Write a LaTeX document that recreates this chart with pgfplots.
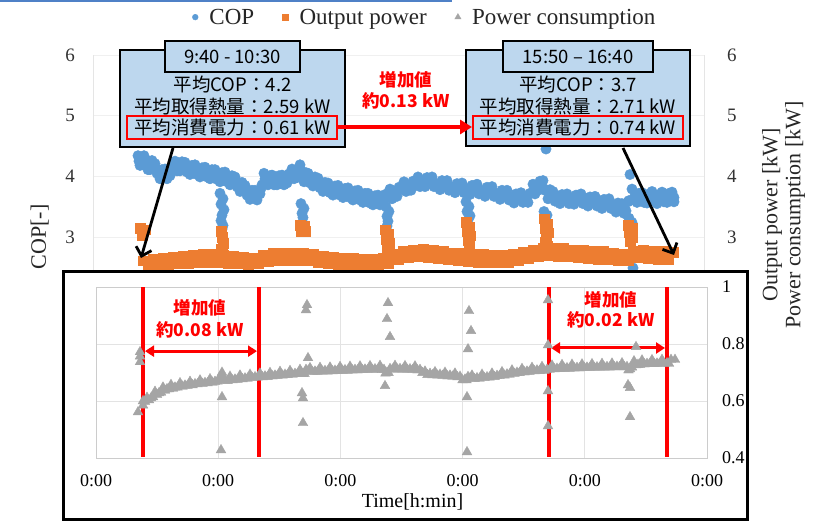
\documentclass[border=0pt]{standalone}
\usepackage{pgfplots}
\pgfplotsset{compat=1.18}
\usepackage{fontspec}
\setmainfont{Liberation Serif}
\newfontfamily\jp{Noto Sans CJK JP}
\usetikzlibrary{arrows.meta}

\definecolor{copblue}{HTML}{5B9BD5}
\definecolor{outorange}{HTML}{ED7D31}
\definecolor{pcgray}{HTML}{A5A5A5}
\definecolor{boxblue}{HTML}{BDD7EE}
\definecolor{annred}{HTML}{FF0000}
\definecolor{topblue}{HTML}{4F81C7}

\begin{document}
\begin{tikzpicture}[x=1pt,y=1pt]
\useasboundingbox (0,0) rectangle (822,522);
\fill[white] (0,0) rectangle (822,522);
\draw[topblue, line width=2.2pt] (0,521) -- (452,521);

% ---------- full-day chart: COP (left axis) ----------
\begin{scope}[xshift=93pt, yshift=103pt]
\begin{axis}[
  scale only axis, width=611pt, height=364pt,
  at={(0pt,0pt)}, anchor=south west,
  xmin=93, xmax=704, ymin=0, ymax=6,
  axis y line*=left, axis x line*=bottom,
  xtick=\empty, ytick={0,1,2,3,4,5,6},
  ymajorgrids, grid style={gray!12, line width=0.8pt},
  axis line style={gray!20},
  major tick length=0pt,
  /pgf/number format/assume math mode=true,
  yticklabel style={font=\fontsize{19}{19}\selectfont, text=black!80, anchor=east, inner sep=0pt, xshift=-18pt},
  ylabel={COP[-]},
  ylabel style={font=\fontsize{22}{22}\selectfont, text=black!85,
    at={(axis description cs:-0.087,0.5)}, anchor=center},
]
\addplot[only marks, mark=*, mark size=5.2pt, color=copblue] coordinates {
(138,4.34)(140,4.18)(142,4.19)(144,4.34)(146,4.27)(148,4.11)(150,4.11)(152,4.26)
(155,4.21)(157,4.05)(160,3.96)(162,4.11)(165,4.12)(167,3.96)(170,4.01)(172,4.16)
(175,4.25)(177,4.09)(180,4.09)(182,4.24)(185,4.23)(187,4.07)(190,4.03)(192,4.18)
(195,4.19)(197,4.03)(200,3.99)(202,4.14)(205,4.15)(207,3.99)(210,3.96)(212,4.11)
(215,4.11)(217,3.95)(220,3.91)(222,4.06)(225,4.07)(227,3.91)(230,3.86)(232,4.01)
(235,3.99)(237,3.83)(240,3.75)(242,3.90)(245,3.85)(247,3.69)(250,3.62)(252,3.77)
(255,3.77)(257,3.61)(260,3.71)(262,3.86)(264,4.05)(266,3.89)(268,3.86)(270,4.01)
(272,4.02)(274,3.86)(277,3.86)(279,4.01)(282,4.02)(284,3.86)(287,3.89)(289,4.04)
(292,4.12)(294,3.96)(297,3.98)(299,4.13)(300,4.19)(302,4.03)(304,3.91)(306,4.06)
(308,4.05)(310,3.89)(313,3.84)(315,3.99)(318,3.97)(320,3.81)(323,3.75)(325,3.90)
(328,3.89)(330,3.73)(333,3.69)(335,3.84)(338,3.85)(340,3.69)(343,3.65)(345,3.80)
(348,3.81)(350,3.65)(353,3.61)(355,3.76)(358,3.77)(360,3.61)(363,3.57)(365,3.72)
(368,3.72)(370,3.56)(373,3.53)(375,3.68)(378,3.69)(380,3.53)(383,3.55)(385,3.70)
(390,3.79)(392,3.63)(397,3.67)(399,3.82)(404,3.91)(406,3.75)(411,3.77)(413,3.92)
(418,3.99)(420,3.83)(425,3.83)(427,3.98)(432,3.99)(434,3.83)(440,3.78)(442,3.93)
(447,3.93)(449,3.77)(455,3.73)(457,3.88)(462,3.89)(464,3.73)(470,3.70)(472,3.85)
(477,3.87)(479,3.71)(485,3.67)(487,3.82)(492,3.83)(494,3.67)(500,3.62)(502,3.77)
(507,3.77)(509,3.61)(514,3.56)(516,3.71)(521,3.73)(523,3.57)(528,3.57)(530,3.72)
(533,3.87)(535,3.71)(538,3.77)(540,3.92)(543,3.93)(545,3.77)(548,3.63)(550,3.78)
(553,3.75)(555,3.59)(560,3.55)(562,3.70)(567,3.71)(569,3.55)(574,3.54)(576,3.69)
(581,3.71)(583,3.55)(588,3.51)(590,3.66)(595,3.67)(597,3.51)(602,3.47)(604,3.62)
(609,3.63)(611,3.47)(616,3.41)(618,3.56)(622,3.55)(624,3.39)(626,3.43)(628,3.58)
(632,3.79)(634,3.63)(637,3.57)(639,3.72)(642,3.73)(644,3.57)(647,3.56)(649,3.71)
(652,3.75)(654,3.59)(657,3.55)(659,3.70)(662,3.74)(664,3.58)(667,3.57)(669,3.72)
(672,3.74)(674,3.58)(630,4.03)(546,4.45)
(139,4.25)(143,4.28)(147,4.18)(151,4.20)(156,4.12)(161,4.05)(166,4.03)(171,4.10)
(176,4.16)(181,4.18)(186,4.14)(191,4.12)(196,4.10)(201,4.08)(206,4.06)(211,4.05)
(216,4.02)(221,4.00)(226,3.98)(231,3.95)(236,3.90)(241,3.84)(246,3.76)(251,3.71)
(256,3.68)(261,3.80)(265,3.96)(269,3.95)(273,3.93)(278,3.95)(283,3.93)(288,3.98)
(293,4.03)(298,4.07)(301,4.10)(305,4.00)(309,3.96)(314,3.93)(319,3.88)(324,3.84)
(329,3.80)(334,3.78)(339,3.76)(344,3.74)(349,3.72)(354,3.70)(359,3.68)(364,3.66)
(369,3.63)(374,3.62)(379,3.60)(384,3.64)(388,3.67)(394,3.72)(401,3.79)(408,3.84)
(415,3.88)(422,3.91)(429,3.91)(436,3.88)(444,3.85)(451,3.83)(459,3.81)(466,3.80)
(474,3.78)(481,3.77)(489,3.75)(496,3.72)(504,3.70)(511,3.66)(518,3.64)(525,3.65)
(531,3.72)(536,3.82)(541,3.85)(546,3.78)(551,3.69)(557,3.65)(564,3.63)(571,3.62)
(578,3.62)(585,3.61)(592,3.59)(599,3.57)(606,3.55)(613,3.52)(619,3.48)(624,3.47)
(629,3.60)(635,3.68)(640,3.65)(645,3.64)(650,3.65)(655,3.65)(660,3.64)(665,3.65)
(670,3.66)(674,3.65)
(220,3.72)(223,3.63)(221,3.54)(224,3.45)(222,3.36)(221,3.27)(223,3.19)(222,3.13)
(301,3.55)(304,3.47)(302,3.39)(303,3.32)
(386,3.50)(389,3.42)(387,3.34)(388,3.26)(387,3.18)
(466,3.58)(469,3.50)(467,3.42)(470,3.35)(468,3.28)
(544,3.42)(547,3.36)(545,3.31)
(629,3.31)(632,3.24)(630,3.18)(633,2.49)
};
\end{axis}

% ---------- full-day chart: output power (right axis) ----------
\begin{axis}[
  scale only axis, width=611pt, height=364pt,
  at={(0pt,0pt)}, anchor=south west,
  xmin=93, xmax=704, ymin=0, ymax=6,
  axis y line*=right, axis x line=none,
  ytick={0,1,2,3,4,5,6},
  axis line style={gray!20},
  major tick length=0pt,
  /pgf/number format/assume math mode=true,
  yticklabel style={font=\fontsize{19}{19}\selectfont, text=black!80, anchor=west, inner sep=0pt, xshift=23pt},
  legend style={at={(0.543,1.104)}, anchor=center, draw=none, fill=none,
    font=\fontsize{23}{23}\selectfont, text=black!85,
    /tikz/every even column/.append style={column sep=26pt}},
  legend columns=3,
  legend image code/.code={\path (0pt,0pt) (15pt,0pt); \draw[#1] plot coordinates {(3pt,0pt)};},
]
\addlegendimage{only marks, mark=*, mark size=2.9pt, copblue}
\addlegendentry{COP}
\addlegendimage{only marks, mark=square*, mark size=3.1pt, outorange}
\addlegendentry{Output power}
\addlegendimage{only marks, mark=triangle*, mark size=3.6pt, pcgray}
\addlegendentry{Power consumption}
\addplot[only marks, mark=square*, mark size=4.9pt, color=outorange, forget plot] coordinates {
(143,2.61)(148,2.51)(153,2.64)(158,2.54)(163,2.66)(168,2.54)(173,2.67)(178,2.56)
(183,2.68)(188,2.57)(193,2.70)(198,2.59)(203,2.71)(208,2.59)(213,2.71)(218,2.58)
(223,2.70)(228,2.57)(233,2.68)(238,2.56)(243,2.67)(248,2.54)(253,2.66)(258,2.56)
(263,2.70)(268,2.60)(273,2.73)(278,2.62)(283,2.74)(288,2.61)(293,2.73)(298,2.62)
(303,2.74)(308,2.61)(313,2.72)(318,2.59)(323,2.69)(328,2.56)(333,2.67)(338,2.54)
(343,2.66)(348,2.53)(353,2.65)(358,2.52)(363,2.64)(368,2.52)(373,2.64)(378,2.53)
(383,2.66)(388,2.56)(393,2.71)(398,2.63)(403,2.77)(408,2.66)(413,2.79)(418,2.68)
(423,2.80)(428,2.67)(433,2.78)(438,2.65)(443,2.76)(448,2.63)(453,2.74)(458,2.61)
(463,2.73)(468,2.60)(473,2.72)(478,2.59)(483,2.71)(488,2.58)(493,2.70)(498,2.58)
(503,2.70)(508,2.59)(513,2.72)(518,2.61)(523,2.75)(528,2.65)(533,2.79)(538,2.69)
(543,2.82)(548,2.70)(553,2.82)(558,2.69)(563,2.81)(568,2.68)(573,2.79)(578,2.66)
(583,2.78)(588,2.65)(593,2.77)(598,2.64)(603,2.76)(608,2.63)(613,2.74)(618,2.61)
(623,2.72)(628,2.61)(633,2.76)(638,2.66)(643,2.78)(648,2.65)(653,2.77)(658,2.64)
(663,2.76)(668,2.63)(673,2.75)
(140,3.15)(145,3.12)(142,3.02)
(221,3.10)(222,3.00)(223,2.90)(221,2.80)(222,2.72)
(300,3.20)(304,3.18)(301,3.10)(305,3.10)
(385,3.12)(388,3.05)(386,2.97)(389,2.90)(387,2.83)
(466,3.25)(469,3.17)(467,3.10)(470,3.02)(468,2.95)(469,2.88)
(544,3.30)(547,3.22)(545,3.15)(548,3.07)(546,3.00)(545,2.92)(547,2.85)
(628,3.20)(632,3.15)(629,3.07)(632,3.00)(630,2.93)
};
\end{axis}
\end{scope}

\node[rotate=90, align=center, font=\fontsize{22}{23}\selectfont, text=black!85]
  at (783.5,307) {Output power [kW]\\Power consumption [kW]};

% ---------- callout boxes ----------
\begin{scope}[font=\jp\fontsize{18.5}{18.5}\selectfont]
\draw[fill=boxblue, line width=2.5pt] (120,375) rectangle (345,472);
\draw[fill=boxblue, line width=2.5pt] (165,450) rectangle (300,481);
\node at (232.5,465.5) {9:40 - 10:30};
\node at (232.5,437) {平均COP：4.2};
\node at (232.5,415) {平均取得熱量：2.59 kW};
\node at (232.5,394) {平均消費電力：0.61 kW};
\draw[annred, line width=2pt] (127,383) rectangle (337,406);

\draw[fill=boxblue, line width=2.5pt] (466,376) rectangle (690,472);
\draw[fill=boxblue, line width=2.5pt] (503,450) rectangle (653,481);
\node at (578,465.5) {15:50 – 16:40};
\node at (578,437) {平均COP：3.7};
\node at (578,415) {平均取得熱量：2.71 kW};
\node at (578,394) {平均消費電力：0.74 kW};
\draw[annred, line width=2pt] (473,383) rectangle (683,406);
\end{scope}

\draw[annred, line width=4pt, -{Triangle[length=12pt,width=14pt]}] (337,395) -- (472,395);
\node[annred, font=\jp\bfseries\fontsize{17.5}{17.5}\selectfont] at (406,442) {増加値};
\node[annred, font=\jp\bfseries\fontsize{17.5}{17.5}\selectfont] at (406,421) {約0.13 kW};

\draw[line width=2.8pt, -{Straight Barb[length=8pt,width=16pt]}] (173,374) -- (141,264);
\draw[line width=2.8pt, -{Straight Barb[length=8pt,width=16pt]}] (623,374) -- (674,267);

% ---------- zoomed power consumption ----------
\fill[white] (63,2) rectangle (747,250);
\begin{scope}[xshift=96pt, yshift=64pt]
\begin{axis}[
  scale only axis, width=611pt, height=171pt,
  at={(0pt,0pt)}, anchor=south west,
  xmin=96, xmax=707, ymin=0.4, ymax=1,
  xtick={96,218.2,340.4,462.6,584.8,707},
  xticklabels={0:00,0:00,0:00,0:00,0:00,0:00},
  ytick={0.4,0.6,0.8,1}, yticklabel pos=right,
  grid=major, grid style={gray!22, line width=0.8pt},
  axis line style={gray!40, line width=0.8pt},
  major tick length=0pt,
  /pgf/number format/assume math mode=true,
  xticklabel style={font=\fontsize{18}{18}\selectfont, anchor=north, inner sep=0pt, yshift=-16pt},
  yticklabel style={font=\fontsize{18}{18}\selectfont, anchor=west, inner sep=0pt, xshift=15pt},
  xlabel={Time[h:min]},
  xlabel style={font=\fontsize{20}{20}\selectfont, at={(axis description cs:0.518,0)}, anchor=center, yshift=-44pt},
]
\addplot[only marks, mark=triangle*, mark size=5.6pt, color=pcgray] coordinates {
(143,0.585)(143,0.60)(147,0.612)(151,0.61)(155,0.633)(159,0.628)(163,0.648)(167,0.642)
(171,0.657)(175,0.648)(180,0.663)(185,0.655)(190,0.668)(195,0.66)(200,0.673)(205,0.664)
(210,0.677)(215,0.668)(220,0.685)(222,0.70)(225,0.672)(230,0.686)(235,0.676)(240,0.69)
(245,0.68)(250,0.693)(255,0.684)(260,0.697)(265,0.687)(270,0.699)(275,0.69)(280,0.703)
(285,0.693)(290,0.706)(295,0.696)(300,0.71)(303,0.695)(306,0.71)(310,0.716)(315,0.704)
(320,0.717)(325,0.706)(330,0.718)(335,0.707)(340,0.72)(345,0.709)(350,0.721)(355,0.71)
(360,0.722)(365,0.711)(370,0.723)(375,0.712)(380,0.724)(384,0.71)(387,0.70)(390,0.713)
(395,0.724)(400,0.713)(405,0.723)(410,0.712)(415,0.722)(420,0.71)(425,0.704)(430,0.696)
(435,0.702)(440,0.693)(445,0.70)(450,0.69)(455,0.697)(460,0.686)(465,0.676)(468,0.685)
(472,0.69)(477,0.681)(482,0.693)(487,0.684)(492,0.697)(497,0.689)(502,0.702)(507,0.694)
(512,0.708)(517,0.70)(522,0.713)(527,0.704)(532,0.717)(537,0.708)(542,0.72)(547,0.71)
(552,0.725)(557,0.714)(562,0.727)(567,0.716)(572,0.728)(577,0.717)(582,0.729)(587,0.718)
(592,0.73)(597,0.719)(602,0.731)(607,0.72)(612,0.732)(617,0.721)(622,0.733)(627,0.72)
(630,0.712)(634,0.74)(638,0.728)(642,0.743)(647,0.731)(652,0.744)(657,0.732)(662,0.745)
(667,0.733)(671,0.745)
(145,0.598)(149,0.603)(153,0.614)(157,0.622)(161,0.630)(165,0.637)(169,0.642)(173,0.644)
(177.5,0.648)(182.5,0.651)(187.5,0.654)(192.5,0.656)(197.5,0.659)(202.5,0.661)(207.5,0.663)
(212.5,0.665)(217.5,0.669)(223.5,0.678)(227.5,0.671)(232.5,0.673)(237.5,0.675)(242.5,0.677)
(247.5,0.679)(252.5,0.681)(257.5,0.683)(262.5,0.684)(267.5,0.685)(272.5,0.687)(277.5,0.689)
(282.5,0.690)(287.5,0.692)(292.5,0.693)(297.5,0.695)(301.5,0.695)(304.5,0.695)(308,0.705)
(312.5,0.702)(317.5,0.703)(322.5,0.704)(327.5,0.704)(332.5,0.705)(337.5,0.706)(342.5,0.707)
(347.5,0.707)(352.5,0.708)(357.5,0.708)(362.5,0.709)(367.5,0.709)(372.5,0.710)(377.5,0.710)
(382,0.709)(385.5,0.697)(388.5,0.699)(392.5,0.711)(397.5,0.711)(402.5,0.710)(407.5,0.710)
(412.5,0.709)(417.5,0.708)(422.5,0.699)(427.5,0.692)(432.5,0.691)(437.5,0.690)(442.5,0.689)
(447.5,0.687)(452.5,0.686)(457.5,0.684)(462.5,0.673)(466.5,0.673)(470,0.680)(474.5,0.678)
(479.5,0.679)(484.5,0.681)(489.5,0.683)(494.5,0.685)(499.5,0.688)(504.5,0.690)(509.5,0.693)
(514.5,0.696)(519.5,0.699)(524.5,0.701)(529.5,0.703)(534.5,0.705)(539.5,0.706)(544.5,0.707)
(549.5,0.710)(554.5,0.712)(559.5,0.713)(564.5,0.714)(569.5,0.714)(574.5,0.715)(579.5,0.715)
(584.5,0.716)(589.5,0.716)(594.5,0.717)(599.5,0.717)(604.5,0.718)(609.5,0.718)(614.5,0.719)
(619.5,0.719)(624.5,0.719)(628.5,0.708)(632,0.718)(636,0.726)(640,0.728)(644.5,0.729)
(649.5,0.730)(654.5,0.730)(659.5,0.731)(664.5,0.731)(669,0.731)
(140,0.772)(140,0.757)(140,0.737)(138,0.561)(222,0.614)(221,0.428)
(307,0.937)(306,0.919)(308,0.751)(302,0.628)(303,0.61)(303,0.523)
(388,0.944)(387,0.888)(390,0.825)(385,0.653)
(469,0.916)(471,0.846)(468,0.782)(467,0.614)(467,0.421)
(548,0.954)(548,0.796)(548,0.635)(548,0.512)
(628,0.656)(630,0.646)(630,0.544)(636,0.79)(675,0.745)
};
% measurement windows
\draw[annred, line width=3.5pt] (axis cs:143,1) -- (axis cs:143,0.403);
\draw[annred, line width=3.5pt] (axis cs:259,1) -- (axis cs:259,0.403);
\draw[annred, line width=3.5pt] (axis cs:549,1) -- (axis cs:549,0.403);
\draw[annred, line width=3.5pt] (axis cs:667,1) -- (axis cs:667,0.403);
\draw[annred, line width=3pt, {Triangle[length=9pt,width=11pt]}-{Triangle[length=9pt,width=11pt]}]
  (axis cs:145,0.775) -- (axis cs:257,0.775);
\draw[annred, line width=3pt, {Triangle[length=9pt,width=11pt]}-{Triangle[length=9pt,width=11pt]}]
  (axis cs:551,0.786) -- (axis cs:665,0.786);
\node[annred, font=\jp\bfseries\fontsize{17.5}{17.5}\selectfont] at (axis cs:200,0.926) {増加値};
\node[annred, font=\jp\bfseries\fontsize{17.5}{17.5}\selectfont] at (axis cs:200,0.849) {約0.08 kW};
\node[annred, font=\jp\bfseries\fontsize{17.5}{17.5}\selectfont] at (axis cs:611,0.954) {増加値};
\node[annred, font=\jp\bfseries\fontsize{17.5}{17.5}\selectfont] at (axis cs:611,0.884) {約0.02 kW};
\end{axis}
\end{scope}
\draw[line width=3pt] (63,2) rectangle (747,250);
\end{tikzpicture}
\end{document}
